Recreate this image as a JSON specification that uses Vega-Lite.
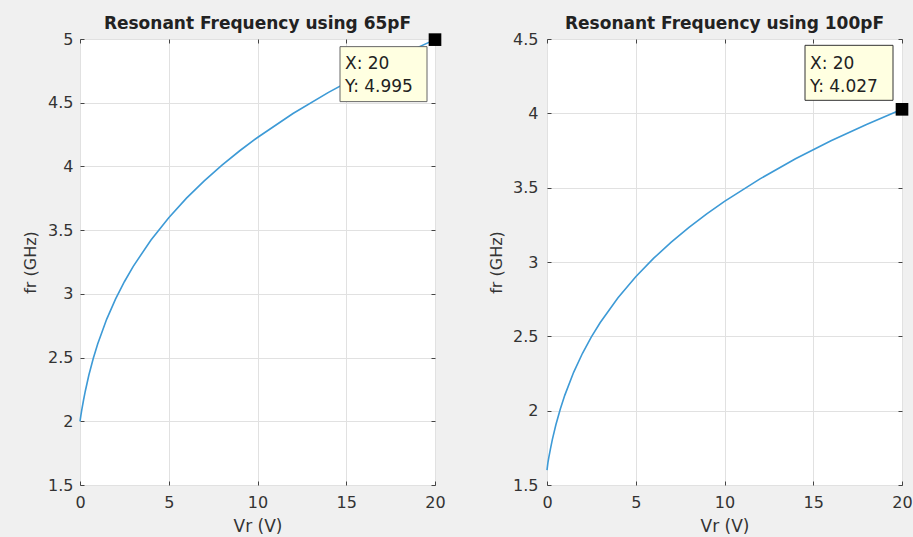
{
  "$schema": "https://vega.github.io/schema/vega-lite/v6.json",
  "background": "#f0f0f0",
  "padding": {"left": 21, "top": 14, "right": 5, "bottom": 2},
  "bounds": "flush",
  "spacing": 112,
  "config": {
    "font": "DejaVu Sans",
    "view": {"stroke": "#444", "strokeWidth": 1, "fill": "white"},
    "axis": {
      "domain": false,
      "labelFlush": false,
      "labelFont": "DejaVu Sans",
      "labelFontSize": 16,
      "labelColor": "#333",
      "tickColor": "#444",
      "tickSize": -4,
      "gridColor": "#e1e1e1",
      "titleFont": "DejaVu Sans",
      "titleFontSize": 16,
      "titleFontWeight": "normal",
      "titleColor": "#333"
    },
    "title": {"font": "DejaVu Sans", "fontSize": 17, "fontWeight": "bold", "color": "#222", "offset": -2, "anchor": "middle"}
  },
  "datasets": {
    "c65": [
      {"Vr": 0, "fr": 2.0}, {"Vr": 0.05, "fr": 2.046}, {"Vr": 0.1, "fr": 2.089}, {"Vr": 0.2, "fr": 2.167},
      {"Vr": 0.3, "fr": 2.238}, {"Vr": 0.5, "fr": 2.363}, {"Vr": 0.75, "fr": 2.495}, {"Vr": 1, "fr": 2.609},
      {"Vr": 1.5, "fr": 2.8}, {"Vr": 2, "fr": 2.959}, {"Vr": 2.5, "fr": 3.095}, {"Vr": 3, "fr": 3.216},
      {"Vr": 4, "fr": 3.423}, {"Vr": 5, "fr": 3.598}, {"Vr": 6, "fr": 3.751}, {"Vr": 7, "fr": 3.887},
      {"Vr": 8, "fr": 4.01}, {"Vr": 9, "fr": 4.123}, {"Vr": 10, "fr": 4.227}, {"Vr": 12, "fr": 4.415},
      {"Vr": 14, "fr": 4.581}, {"Vr": 16, "fr": 4.731}, {"Vr": 18, "fr": 4.868}, {"Vr": 20, "fr": 4.995}
    ],
    "c100": [
      {"Vr": 0, "fr": 1.6}, {"Vr": 0.05, "fr": 1.649}, {"Vr": 0.1, "fr": 1.684}, {"Vr": 0.2, "fr": 1.747},
      {"Vr": 0.3, "fr": 1.805}, {"Vr": 0.5, "fr": 1.905}, {"Vr": 0.75, "fr": 2.011}, {"Vr": 1, "fr": 2.103},
      {"Vr": 1.5, "fr": 2.258}, {"Vr": 2, "fr": 2.386}, {"Vr": 2.5, "fr": 2.496}, {"Vr": 3, "fr": 2.593},
      {"Vr": 4, "fr": 2.76}, {"Vr": 5, "fr": 2.901}, {"Vr": 6, "fr": 3.024}, {"Vr": 7, "fr": 3.134},
      {"Vr": 8, "fr": 3.233}, {"Vr": 9, "fr": 3.324}, {"Vr": 10, "fr": 3.408}, {"Vr": 12, "fr": 3.559},
      {"Vr": 14, "fr": 3.694}, {"Vr": 16, "fr": 3.815}, {"Vr": 18, "fr": 3.925}, {"Vr": 20, "fr": 4.027}
    ],
    "tip65": [{"Vr": 20, "fr": 4.995, "label": "X: 20\nY: 4.995"}],
    "tip100": [{"Vr": 20, "fr": 4.027, "label": "X: 20\nY: 4.027"}]
  },
  "hconcat": [
    {
      "width": 355,
      "height": 446,
      "title": "Resonant Frequency using 65pF",
      "resolve": {"axis": {"x": "independent", "y": "independent"}},
      "layer": [
        {
          "data": {"name": "c65"},
          "mark": {"type": "line", "color": "#3d9ad6", "strokeWidth": 1.6},
          "encoding": {
            "x": {"field": "Vr", "type": "quantitative", "scale": {"domain": [0, 20], "nice": false},
              "axis": {"orient": "bottom", "values": [0, 5, 10, 15, 20], "title": "Vr (V)", "titleFontSize": 17, "labelPadding": 13, "titleX": 177.5, "titleY": 41, "titleBaseline": "middle", "titleAnchor": "middle"}},
            "y": {"field": "fr", "type": "quantitative", "scale": {"domain": [1.5, 5], "nice": false, "zero": false},
              "axis": {"orient": "left", "values": [1.5, 2, 2.5, 3, 3.5, 4, 4.5, 5], "format": "~g", "title": "fr (GHz)", "labelPadding": 11, "titleX": -50, "titleY": 223, "titleBaseline": "middle", "titleAnchor": "middle", "titleAngle": -90}}
          }
        },
        {
          "data": {"name": "tip65"},
          "mark": {"type": "rect", "fill": "#ffffe1", "stroke": "#666", "strokeWidth": 1, "xOffset": -95, "x2Offset": -8, "yOffset": 7, "y2Offset": 62},
          "encoding": {
            "x": {"field": "Vr", "type": "quantitative", "axis": null},
            "x2": {"field": "Vr"},
            "y": {"field": "fr", "type": "quantitative", "axis": null},
            "y2": {"field": "fr"}
          }
        },
        {
          "data": {"name": "tip65"},
          "mark": {"type": "text", "align": "left", "baseline": "top", "dx": -90, "dy": 16, "lineBreak": "\n", "lineHeight": 23, "fontSize": 17, "color": "#222", "font": "DejaVu Sans"},
          "encoding": {
            "x": {"field": "Vr", "type": "quantitative", "axis": null},
            "y": {"field": "fr", "type": "quantitative", "axis": null},
            "text": {"field": "label"}
          }
        },
        {
          "data": {"name": "tip65"},
          "mark": {"type": "square", "size": 160, "color": "black", "filled": true, "opacity": 1},
          "encoding": {
            "x": {"field": "Vr", "type": "quantitative",
              "axis": {"orient": "top", "values": [0, 5, 10, 15, 20], "labels": false, "title": null, "grid": false}},
            "y": {"field": "fr", "type": "quantitative",
              "axis": {"orient": "right", "values": [1.5, 2, 2.5, 3, 3.5, 4, 4.5, 5], "labels": false, "title": null, "grid": false}}
          }
        }
      ]
    },
    {
      "width": 355,
      "height": 446,
      "title": "Resonant Frequency using 100pF",
      "resolve": {"axis": {"x": "independent", "y": "independent"}},
      "layer": [
        {
          "data": {"name": "c100"},
          "mark": {"type": "line", "color": "#3d9ad6", "strokeWidth": 1.6},
          "encoding": {
            "x": {"field": "Vr", "type": "quantitative", "scale": {"domain": [0, 20], "nice": false},
              "axis": {"orient": "bottom", "values": [0, 5, 10, 15, 20], "title": "Vr (V)", "titleFontSize": 17, "labelPadding": 13, "titleX": 177.5, "titleY": 41, "titleBaseline": "middle", "titleAnchor": "middle"}},
            "y": {"field": "fr", "type": "quantitative", "scale": {"domain": [1.5, 4.5], "nice": false, "zero": false},
              "axis": {"orient": "left", "values": [1.5, 2, 2.5, 3, 3.5, 4, 4.5], "format": "~g", "title": "fr (GHz)", "labelPadding": 13, "titleX": -51, "titleY": 223, "titleBaseline": "middle", "titleAnchor": "middle", "titleAngle": -90}}
          }
        },
        {
          "data": {"name": "tip100"},
          "mark": {"type": "rect", "fill": "#ffffe1", "stroke": "#333", "strokeWidth": 1, "xOffset": -97, "x2Offset": -9, "yOffset": -64, "y2Offset": -9},
          "encoding": {
            "x": {"field": "Vr", "type": "quantitative", "axis": null},
            "x2": {"field": "Vr"},
            "y": {"field": "fr", "type": "quantitative", "axis": null},
            "y2": {"field": "fr"}
          }
        },
        {
          "data": {"name": "tip100"},
          "mark": {"type": "text", "align": "left", "baseline": "top", "dx": -92, "dy": -53, "lineBreak": "\n", "lineHeight": 23, "fontSize": 17, "color": "#222", "font": "DejaVu Sans"},
          "encoding": {
            "x": {"field": "Vr", "type": "quantitative", "axis": null},
            "y": {"field": "fr", "type": "quantitative", "axis": null},
            "text": {"field": "label"}
          }
        },
        {
          "data": {"name": "tip100"},
          "mark": {"type": "square", "size": 160, "color": "black", "filled": true, "opacity": 1},
          "encoding": {
            "x": {"field": "Vr", "type": "quantitative",
              "axis": {"orient": "top", "values": [0, 5, 10, 15, 20], "labels": false, "title": null, "grid": false}},
            "y": {"field": "fr", "type": "quantitative",
              "axis": {"orient": "right", "values": [1.5, 2, 2.5, 3, 3.5, 4, 4.5], "labels": false, "title": null, "grid": false}}
          }
        }
      ]
    }
  ]
}
